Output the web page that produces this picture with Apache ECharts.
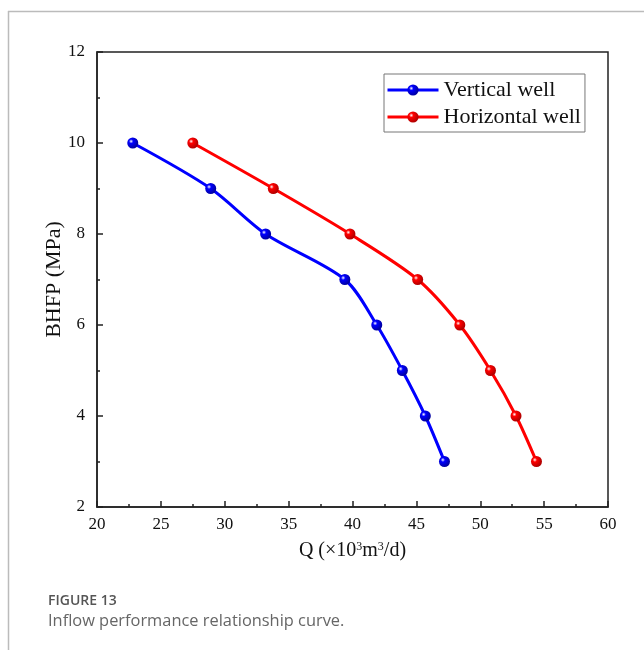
<!DOCTYPE html>
<html><head><meta charset="utf-8">
<script src="https://cdn.jsdelivr.net/npm/echarts@6/dist/echarts.min.js"></script>
<style>html,body{margin:0;padding:0;background:#fff}#c{width:644px;height:650px}</style>
</head><body><div id="c"></div>
<script>
const pressure = [10, 9, 8, 7, 6, 5, 4, 3];
const verticalQ = [22.8, 28.9, 33.2, 39.4, 41.9, 43.9, 45.7, 47.2];
const horizontalQ = [27.5, 33.8, 39.8, 45.1, 48.4, 50.8, 52.8, 54.4];
const xTicks = [20, 25, 30, 35, 40, 45, 50, 55, 60];
const yTicks = [2, 4, 6, 8, 10, 12];

function ball(c, dark) {
  return new echarts.graphic.RadialGradient(0.35, 0.35, 0.65, [
    {offset: 0, color: '#ffffff'}, {offset: 0.3, color: c}, {offset: 1, color: dark}
  ]);
}
const chart = echarts.init(document.getElementById('c'));
const font = '"Liberation Serif","Times New Roman",serif';
function mk(name, xs, c, dark) {
  return {
    name: name, type: 'line', smooth: 0.3,
    data: xs.map((x, i) => [x, pressure[i]]),
    symbol: 'circle', symbolSize: 11,
    lineStyle: {color: c, width: 3},
    itemStyle: {color: ball(c, dark), borderWidth: 0},
    color: c
  };
}
chart.setOption({
  animation: false,
  grid: {left: 97, right: 36, top: 52, bottom: 143, show: true, borderColor: '#222', borderWidth: 1.5},
  legend: {
    left: 384, top: 74, orient: 'vertical', itemGap: 5, itemWidth: 51, itemHeight: 14,
    borderColor: '#777', borderWidth: 1, padding: [5, 4, 4, 2],
    lineStyle: {width: 3},
    textStyle: {fontFamily: font, fontSize: 22, color: '#111'},
    data: ['Vertical well', 'Horizontal well']
  },
  xAxis: {
    type: 'value', min: xTicks[0], max: xTicks[xTicks.length - 1], interval: 5,
    axisLine: {lineStyle: {color: '#222', width: 1.5}},
    axisTick: {inside: true, length: 6, lineStyle: {color: '#222', width: 1.5}},
    minorTick: {show: true, splitNumber: 2, length: 3, lineStyle: {color: '#222', width: 1.5}},
    splitLine: {show: false},
    axisLabel: {fontFamily: font, fontSize: 17, color: '#111', margin: 9},
    name: '{n|Q (×10}{s|3}{n|m}{s|3}{n|/d)}', nameLocation: 'middle', nameGap: 34,
    nameTextStyle: {rich: {n: {fontFamily: font, fontSize: 20, color: '#111'}, s: {fontFamily: font, fontSize: 12, color: '#111', verticalAlign: 'top', padding: [0, 0, 8, 0]}}}
  },
  yAxis: {
    type: 'value', min: yTicks[0], max: yTicks[yTicks.length - 1], interval: 2,
    axisLine: {lineStyle: {color: '#222', width: 1.5}},
    axisTick: {inside: true, length: 6, lineStyle: {color: '#222', width: 1.5}},
    minorTick: {show: true, splitNumber: 2, length: 3, lineStyle: {color: '#222', width: 1.5}},
    splitLine: {show: false},
    axisLabel: {fontFamily: font, fontSize: 17, color: '#111', margin: 12},
    name: 'BHFP (MPa)', nameLocation: 'middle', nameGap: 32, nameMoveOverlap: false,
    nameTextStyle: {fontFamily: font, fontSize: 22, color: '#111'}
  },
  series: [
    mk('Vertical well', verticalQ, '#0000ff', '#0000a0'),
    mk('Horizontal well', horizontalQ, '#ff0000', '#b00000')
  ],
  graphic: [
    {type: 'line', shape: {x1: 8, y1: 11.5, x2: 644, y2: 11.5}, style: {stroke: '#bbb', lineWidth: 1.5}},
    {type: 'line', shape: {x1: 8.5, y1: 11, x2: 8.5, y2: 650}, style: {stroke: '#bbb', lineWidth: 1.5}},
    {type: 'text', left: 48, top: 594, style: {text: 'FIGURE 13', font: '600 14px "Open Sans"', fill: '#555'}},
    {type: 'text', left: 48, top: 613, style: {text: 'Inflow performance relationship curve.', font: '16.4px "Open Sans"', fill: '#666'}}
  ]
});
</script></body></html>
